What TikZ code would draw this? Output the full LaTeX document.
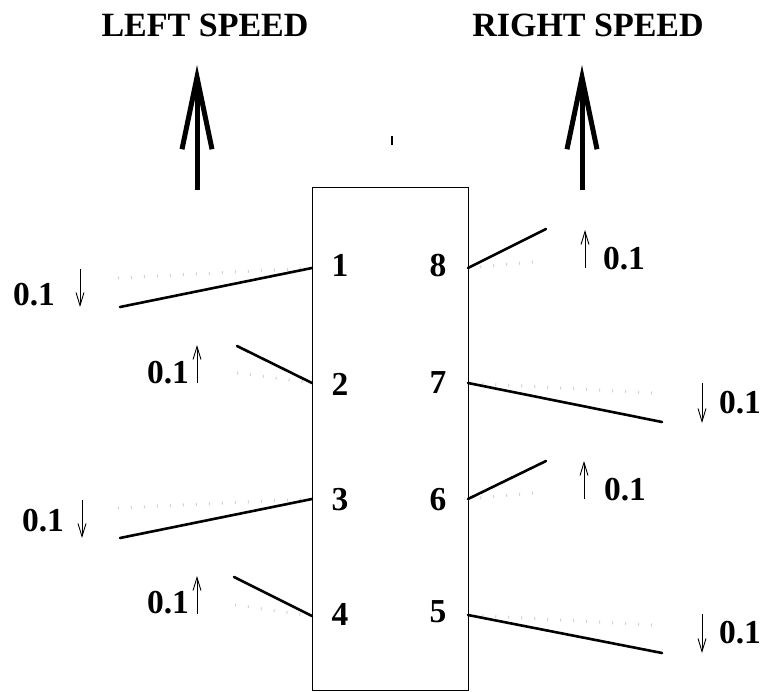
\documentclass[tikz,border=0pt]{standalone}
\usepackage{fontspec}
\setmainfont{Liberation Serif}
\usetikzlibrary{arrows.meta}
\begin{document}
\begin{tikzpicture}[x=1pt,y=-1pt,
  lbl/.style={font=\fontsize{33.5}{38}\selectfont\bfseries, inner sep=0pt, anchor=base},
  ttl/.style={font=\fontsize{34}{39}\selectfont\bfseries, inner sep=0pt, anchor=base},
  arm/.style={line width=2.6pt, line cap=round},
  ghost/.style={line width=3pt, gray!35, dash pattern=on 1pt off 12pt},
  bigarrow/.style={line width=5pt, -{Straight Barb[length=72pt,width=30pt,line width=5pt]}},
  small/.style={line width=0.9pt, -{Straight Barb[length=13pt,width=8pt,line width=0.9pt]}}]
\useasboundingbox (0,0) rectangle (768,692);
% box
\node[draw, line width=1pt, minimum width=156pt, minimum height=503pt, inner sep=0pt, anchor=north west] (box) at (312,187) {};
% titles
\node[ttl] (tl) at (205,37) {LEFT SPEED};
\node[ttl] (tr) at (588,37) {RIGHT SPEED};
% big arrows
\coordinate (la0) at (197,190); \coordinate (la1) at (197,65);
\coordinate (ra0) at (582,190); \coordinate (ra1) at (582,65);
\draw[bigarrow] (la0) -- (la1);
\draw[bigarrow] (ra0) -- (ra1);
% small tick
\coordinate (t0) at (392,136); \coordinate (t1) at (392,145);
\draw[line width=1.8pt] (t0) -- (t1);
% numbers
\node[lbl] (n1) at (340,277) {1};
\node[lbl] (n8) at (438,277) {8};
\node[lbl] (n2) at (340,395) {2};
\node[lbl] (n7) at (438,393) {7};
\node[lbl] (n3) at (340,510) {3};
\node[lbl] (n6) at (438,510) {6};
\node[lbl] (n4) at (340,625) {4};
\node[lbl] (n5) at (438,622) {5};
% port coordinates
\coordinate (p1) at (312,268); \coordinate (p2) at (312,383);
\coordinate (p3) at (312,499); \coordinate (p4) at (312,616);
\coordinate (p8) at (468,268); \coordinate (p7) at (468,383);
\coordinate (p6) at (468,499); \coordinate (p5) at (468,615);
% ghost (original) positions
\coordinate (g1) at (118,278); \coordinate (g2) at (237,373);
\coordinate (g3) at (118,508); \coordinate (g4) at (235,605);
\coordinate (g8) at (533,262); \coordinate (g7) at (652,393);
\coordinate (g6) at (533,493); \coordinate (g5) at (652,625);
\foreach \i in {1,...,8} {\draw[ghost] (g\i) -- (p\i);}
% new positions
\coordinate (e1) at (120,307); \coordinate (e2) at (237,346);
\coordinate (e3) at (120,538); \coordinate (e4) at (234,577);
\coordinate (e8) at (546,229); \coordinate (e7) at (662,422);
\coordinate (e6) at (546,461); \coordinate (e5) at (662,653);
\foreach \i in {1,...,8} {\draw[arm] (p\i) -- (e\i);}
% small arrows
\coordinate (s1a) at (80,269);  \coordinate (s1b) at (80,307);
\coordinate (s2a) at (197,383); \coordinate (s2b) at (197,345);
\coordinate (s3a) at (82,500);  \coordinate (s3b) at (82,538);
\coordinate (s4a) at (197,614); \coordinate (s4b) at (197,576);
\coordinate (s8a) at (585,268); \coordinate (s8b) at (585,230);
\coordinate (s7a) at (702,383); \coordinate (s7b) at (702,423);
\coordinate (s6a) at (584,499); \coordinate (s6b) at (584,461);
\coordinate (s5a) at (702,614); \coordinate (s5b) at (702,653);
\foreach \i in {1,...,8} {\draw[small] (s\i a) -- (s\i b);}
% value labels
\node[lbl] (v1) at (34,306) {0.1};
\node[lbl] (v2) at (168,383) {0.1};
\node[lbl] (v3) at (43,531) {0.1};
\node[lbl] (v4) at (168,613) {0.1};
\node[lbl] (v8) at (624,270) {0.1};
\node[lbl] (v7) at (740,413) {0.1};
\node[lbl] (v6) at (625,500) {0.1};
\node[lbl] (v5) at (740,643) {0.1};
\end{tikzpicture}
\end{document}
